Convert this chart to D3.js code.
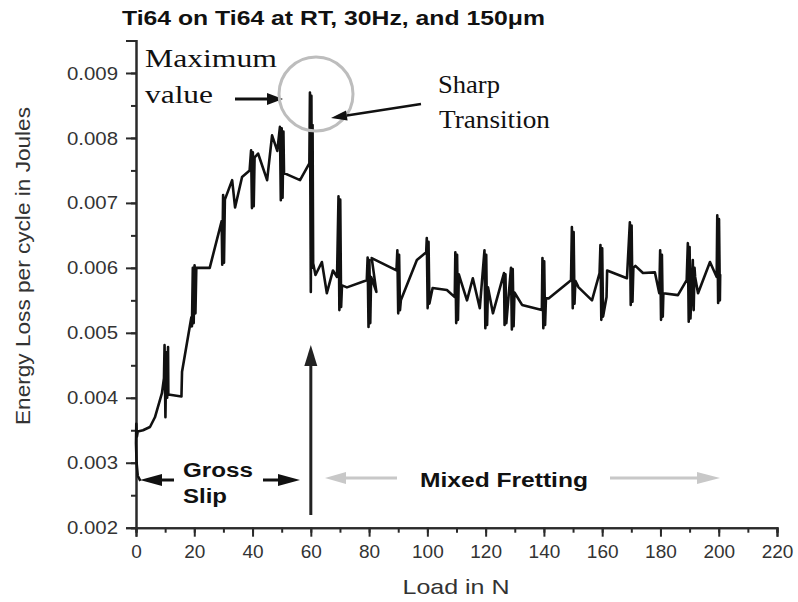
<!DOCTYPE html>
<html>
<head>
<meta charset="utf-8">
<script src="https://cdn.jsdelivr.net/npm/d3@7"></script>
<style>
  html, body { margin: 0; padding: 0; background: #fff; }
  svg { display: block; }
</style>
</head>
<body>
<svg id="chart" width="798" height="602"></svg>
<script>
// ---- Data ----
const titleText = "Ti64 on Ti64 at RT, 30Hz, and 150\u03BCm";
const xLabel = "Load in N";
const yLabel = "Energy Loss per cycle in Joules";
const xTicks = [0, 20, 40, 60, 80, 100, 120, 140, 160, 180, 200, 220];
const yTicks = [0.002, 0.003, 0.004, 0.005, 0.006, 0.007, 0.008, 0.009];

const loadN = [
  1.5, 0.6, 0.2, 0.0, 0.1, 0.3, 0.6, 2.4, 4.8, 6.5, 8.9, 9.6,
  9.8, 10.1, 10.4, 10.7, 11.0, 11.1,
  15.6, 15.8, 19.0,
  19.2, 19.5, 19.8, 20.1, 20.4, 20.7,
  25.3, 29.4,
  29.6, 29.9, 30.2, 30.5,
  33.0, 34.0, 36.4, 39.0,
  39.5, 39.8, 40.1, 40.4, 40.7,
  41.9, 45.0, 46.7, 48.5,
  49.4, 49.7, 50.0, 50.3, 50.6, 50.8,
  52.8, 56.3, 59.5,
  59.7, 60.0, 60.2, 60.4, 60.6, 60.8,
  61.6, 63.8, 65.5, 67.6, 69.0,
  69.5, 69.8, 70.1, 70.4, 70.7,
  72.4, 79.2,
  79.5, 79.8, 80.1, 80.4, 80.7, 82.5, 80.9,
  89.4,
  89.7, 90.0, 90.3, 90.6, 90.9,
  96.4, 99.6,
  99.8, 100.1, 100.4, 100.7,
  101.8, 106.7, 109.4,
  109.6, 109.9, 110.2, 110.5, 110.8,
  111.4, 113.6, 115.6, 118.0,
  119.6, 119.9, 120.2, 120.5, 120.8,
  122.5, 126.3,
  126.5, 126.8, 127.1,
  128.7, 129.0, 129.3, 129.6, 129.9,
  132.5, 139.3,
  139.5, 139.8, 140.1, 140.4, 140.7,
  141.6, 149.3,
  149.6, 149.9, 150.2, 150.5, 150.8,
  151.9, 156.5, 159.1,
  159.4, 159.7, 160.0, 160.3, 161.5, 161.7,
  168.5,
  169.5, 169.8, 170.1, 170.4, 170.7,
  171.4, 174.0, 178.1, 179.6,
  179.9, 180.2, 180.5, 180.8, 181.0,
  186.0, 189.0,
  189.4, 189.7, 190.0, 190.3,
  191.1, 191.4, 191.7,
  191.9, 192.9, 197.0, 199.3,
  199.5, 199.8, 200.1, 200.4, 200.5
];
const energyJ = [
  0.00272, 0.00280, 0.00300, 0.00330, 0.00360, 0.00340, 0.00348, 0.00350, 0.00355, 0.00370, 0.00407, 0.00430,
  0.00481, 0.00370, 0.00470, 0.00400, 0.00478, 0.00405,
  0.00402, 0.00440, 0.00524,
  0.00510, 0.00600, 0.00515, 0.00604, 0.00530, 0.00600,
  0.00600, 0.00672,
  0.00605, 0.00712, 0.00608, 0.00705,
  0.00735, 0.00693, 0.00740, 0.00750,
  0.00781, 0.00692, 0.00778, 0.00695, 0.00770,
  0.00776, 0.00735, 0.00804, 0.00780,
  0.00817, 0.00704, 0.00815, 0.00708, 0.00810, 0.00746,
  0.00742, 0.00735, 0.00761,
  0.00870, 0.00563, 0.00865, 0.00600, 0.00820, 0.00607,
  0.00589, 0.00609, 0.00561, 0.00596, 0.00586,
  0.00710, 0.00535, 0.00705, 0.00540, 0.00573,
  0.00570, 0.00581,
  0.00616, 0.00509, 0.00612, 0.00515, 0.00586, 0.00563, 0.00615,
  0.00596,
  0.00627, 0.00530, 0.00620, 0.00535, 0.00550,
  0.00612, 0.00624,
  0.00646, 0.00538, 0.00640, 0.00545,
  0.00569, 0.00566, 0.00555,
  0.00624, 0.00515, 0.00620, 0.00520, 0.00590,
  0.00581, 0.00550, 0.00584, 0.00538,
  0.00627, 0.00507, 0.00620, 0.00512, 0.00570,
  0.00530, 0.00592,
  0.00512, 0.00590, 0.00515,
  0.00600, 0.00505, 0.00598, 0.00510, 0.00562,
  0.00543, 0.00535,
  0.00615, 0.00507, 0.00610, 0.00512, 0.00553,
  0.00553, 0.00581,
  0.00663, 0.00538, 0.00655, 0.00545, 0.00580,
  0.00570, 0.00550, 0.00592,
  0.00635, 0.00520, 0.00630, 0.00525, 0.00555, 0.00596,
  0.00584,
  0.00670, 0.00543, 0.00665, 0.00548, 0.00600,
  0.00603, 0.00592, 0.00593, 0.00561,
  0.00627, 0.00520, 0.00620, 0.00525, 0.00561,
  0.00558, 0.00581,
  0.00638, 0.00517, 0.00632, 0.00522,
  0.00612, 0.00535, 0.00600,
  0.00586, 0.00561, 0.00609, 0.00586,
  0.00681, 0.00546, 0.00675, 0.00550, 0.00590
];

// ---- Drawing ----
const svg = d3.select("#chart");
const x = d3.scaleLinear().domain([0, 220]).range([136, 777]);
const y = d3.scaleLinear().domain([0.002, 0.0095]).range([527.7, 40.5]);
const axisColor = "#2a2a2a";
const sans = "'Liberation Sans', Arial, sans-serif";
const serif = "'Liberation Serif', 'Times New Roman', serif";

// title
svg.append("text").attr("x", 122).attr("y", 25)
  .attr("font-family", sans).attr("font-weight", "bold").attr("font-size", 19.5)
  .attr("fill", "#111").attr("textLength", 423).attr("lengthAdjust", "spacingAndGlyphs")
  .text(titleText);

// minor ticks
const xMinor = d3.range(0, 221, 10);
const yMinor = d3.range(0, 16).map(i => 0.002 + i * 0.0005);

const xAxis = svg.append("g").attr("transform", `translate(0,${y(0.002)})`)
  .call(d3.axisBottom(x).tickValues(xMinor).tickSize(5).tickFormat(""));
const xAxis2 = svg.append("g").attr("transform", `translate(0,${y(0.002)})`)
  .call(d3.axisBottom(x).tickValues(xTicks).tickSize(9).tickPadding(8).tickFormat(d3.format("d")));
const yAxis = svg.append("g").attr("transform", `translate(${x(0)},0)`)
  .call(d3.axisLeft(y).tickValues(yMinor).tickSize(5).tickFormat(""));
const yAxis2 = svg.append("g").attr("transform", `translate(${x(0)},0)`)
  .call(d3.axisLeft(y).tickValues(yTicks).tickSize(10).tickPadding(8).tickFormat(d3.format(".3f")));

[xAxis, xAxis2, yAxis, yAxis2].forEach(g => {
  g.selectAll("path.domain").attr("stroke", axisColor).attr("stroke-width", 2);
  g.selectAll(".tick line").attr("stroke", axisColor).attr("stroke-width", 2);
  g.selectAll(".tick text").attr("font-family", sans).attr("font-size", 19).attr("fill", "#333");
});
yAxis2.selectAll(".tick text").attr("textLength", 51).attr("lengthAdjust", "spacingAndGlyphs");

// axis labels
svg.append("text").attr("x", 456).attr("y", 594).attr("text-anchor", "middle")
  .attr("font-family", sans).attr("font-size", 21).attr("fill", "#333")
  .attr("textLength", 107).attr("lengthAdjust", "spacingAndGlyphs")
  .text(xLabel);
svg.append("text").attr("transform", "translate(30,266) rotate(-90)").attr("text-anchor", "middle")
  .attr("font-family", sans).attr("font-size", 21).attr("fill", "#333")
  .attr("textLength", 318).attr("lengthAdjust", "spacingAndGlyphs")
  .text(yLabel);

// data line
const pts = loadN.map((d, i) => [d, energyJ[i]]);
svg.append("path").datum(pts)
  .attr("fill", "none").attr("stroke", "#111").attr("stroke-width", 2.6)
  .attr("stroke-linejoin", "round")
  .attr("d", d3.line().x(d => x(d[0])).y(d => y(d[1])));

// annotations
function arrow(x1, y1, x2, y2, color, w, headLen, headHalf) {
  const ang = Math.atan2(y2 - y1, x2 - x1);
  const bx = x2 - headLen * Math.cos(ang), by = y2 - headLen * Math.sin(ang);
  svg.append("line").attr("x1", x1).attr("y1", y1).attr("x2", bx).attr("y2", by)
    .attr("stroke", color).attr("stroke-width", w);
  const px = -Math.sin(ang) * headHalf, py = Math.cos(ang) * headHalf;
  svg.append("polygon")
    .attr("points", `${x2},${y2} ${bx + px},${by + py} ${bx - px},${by - py}`)
    .attr("fill", color);
}

// Maximum value
svg.append("text").attr("x", 145).attr("y", 67).attr("font-family", serif).attr("font-size", 26)
  .attr("fill", "#111").attr("textLength", 132).attr("lengthAdjust", "spacingAndGlyphs").text("Maximum");
svg.append("text").attr("x", 145).attr("y", 103).attr("font-family", serif).attr("font-size", 26)
  .attr("fill", "#111").attr("textLength", 68).attr("lengthAdjust", "spacingAndGlyphs").text("value");
arrow(235, 99, 283, 99, "#111", 3, 16, 6);

// circle
svg.append("circle").attr("cx", 316).attr("cy", 94).attr("r", 37)
  .attr("fill", "none").attr("stroke", "#bdbdbd").attr("stroke-width", 3);

// Sharp Transition
svg.append("text").attr("x", 438).attr("y", 93).attr("font-family", serif).attr("font-size", 26)
  .attr("fill", "#111").attr("textLength", 62).attr("lengthAdjust", "spacingAndGlyphs").text("Sharp");
svg.append("text").attr("x", 439).attr("y", 128).attr("font-family", serif).attr("font-size", 26)
  .attr("fill", "#111").attr("textLength", 111).attr("lengthAdjust", "spacingAndGlyphs").text("Transition");
arrow(421, 104, 331, 118, "#111", 2.5, 16, 5);

// Gross Slip
svg.append("text").attr("x", 183).attr("y", 477).attr("font-family", sans).attr("font-weight", "bold")
  .attr("font-size", 20).attr("fill", "#111").attr("textLength", 70).attr("lengthAdjust", "spacingAndGlyphs").text("Gross");
svg.append("text").attr("x", 183).attr("y", 503).attr("font-family", sans).attr("font-weight", "bold")
  .attr("font-size", 20).attr("fill", "#111").attr("textLength", 44).attr("lengthAdjust", "spacingAndGlyphs").text("Slip");
arrow(174, 480, 140, 480, "#111", 3, 22, 6);
arrow(263, 480, 300, 480, "#111", 3, 22, 6);

// vertical arrow at 60 N
arrow(x(60), 515, x(60), 345, "#222", 3, 21, 6.5);

// Mixed Fretting
svg.append("text").attr("x", 420).attr("y", 487).attr("font-family", sans).attr("font-weight", "bold")
  .attr("font-size", 21).attr("fill", "#111").attr("textLength", 168).attr("lengthAdjust", "spacingAndGlyphs").text("Mixed Fretting");
arrow(397, 478, 325, 478, "#c8c8c8", 3, 21, 6);
arrow(610, 478, 720, 478, "#c8c8c8", 3, 23, 6);
</script>
</body>
</html>
